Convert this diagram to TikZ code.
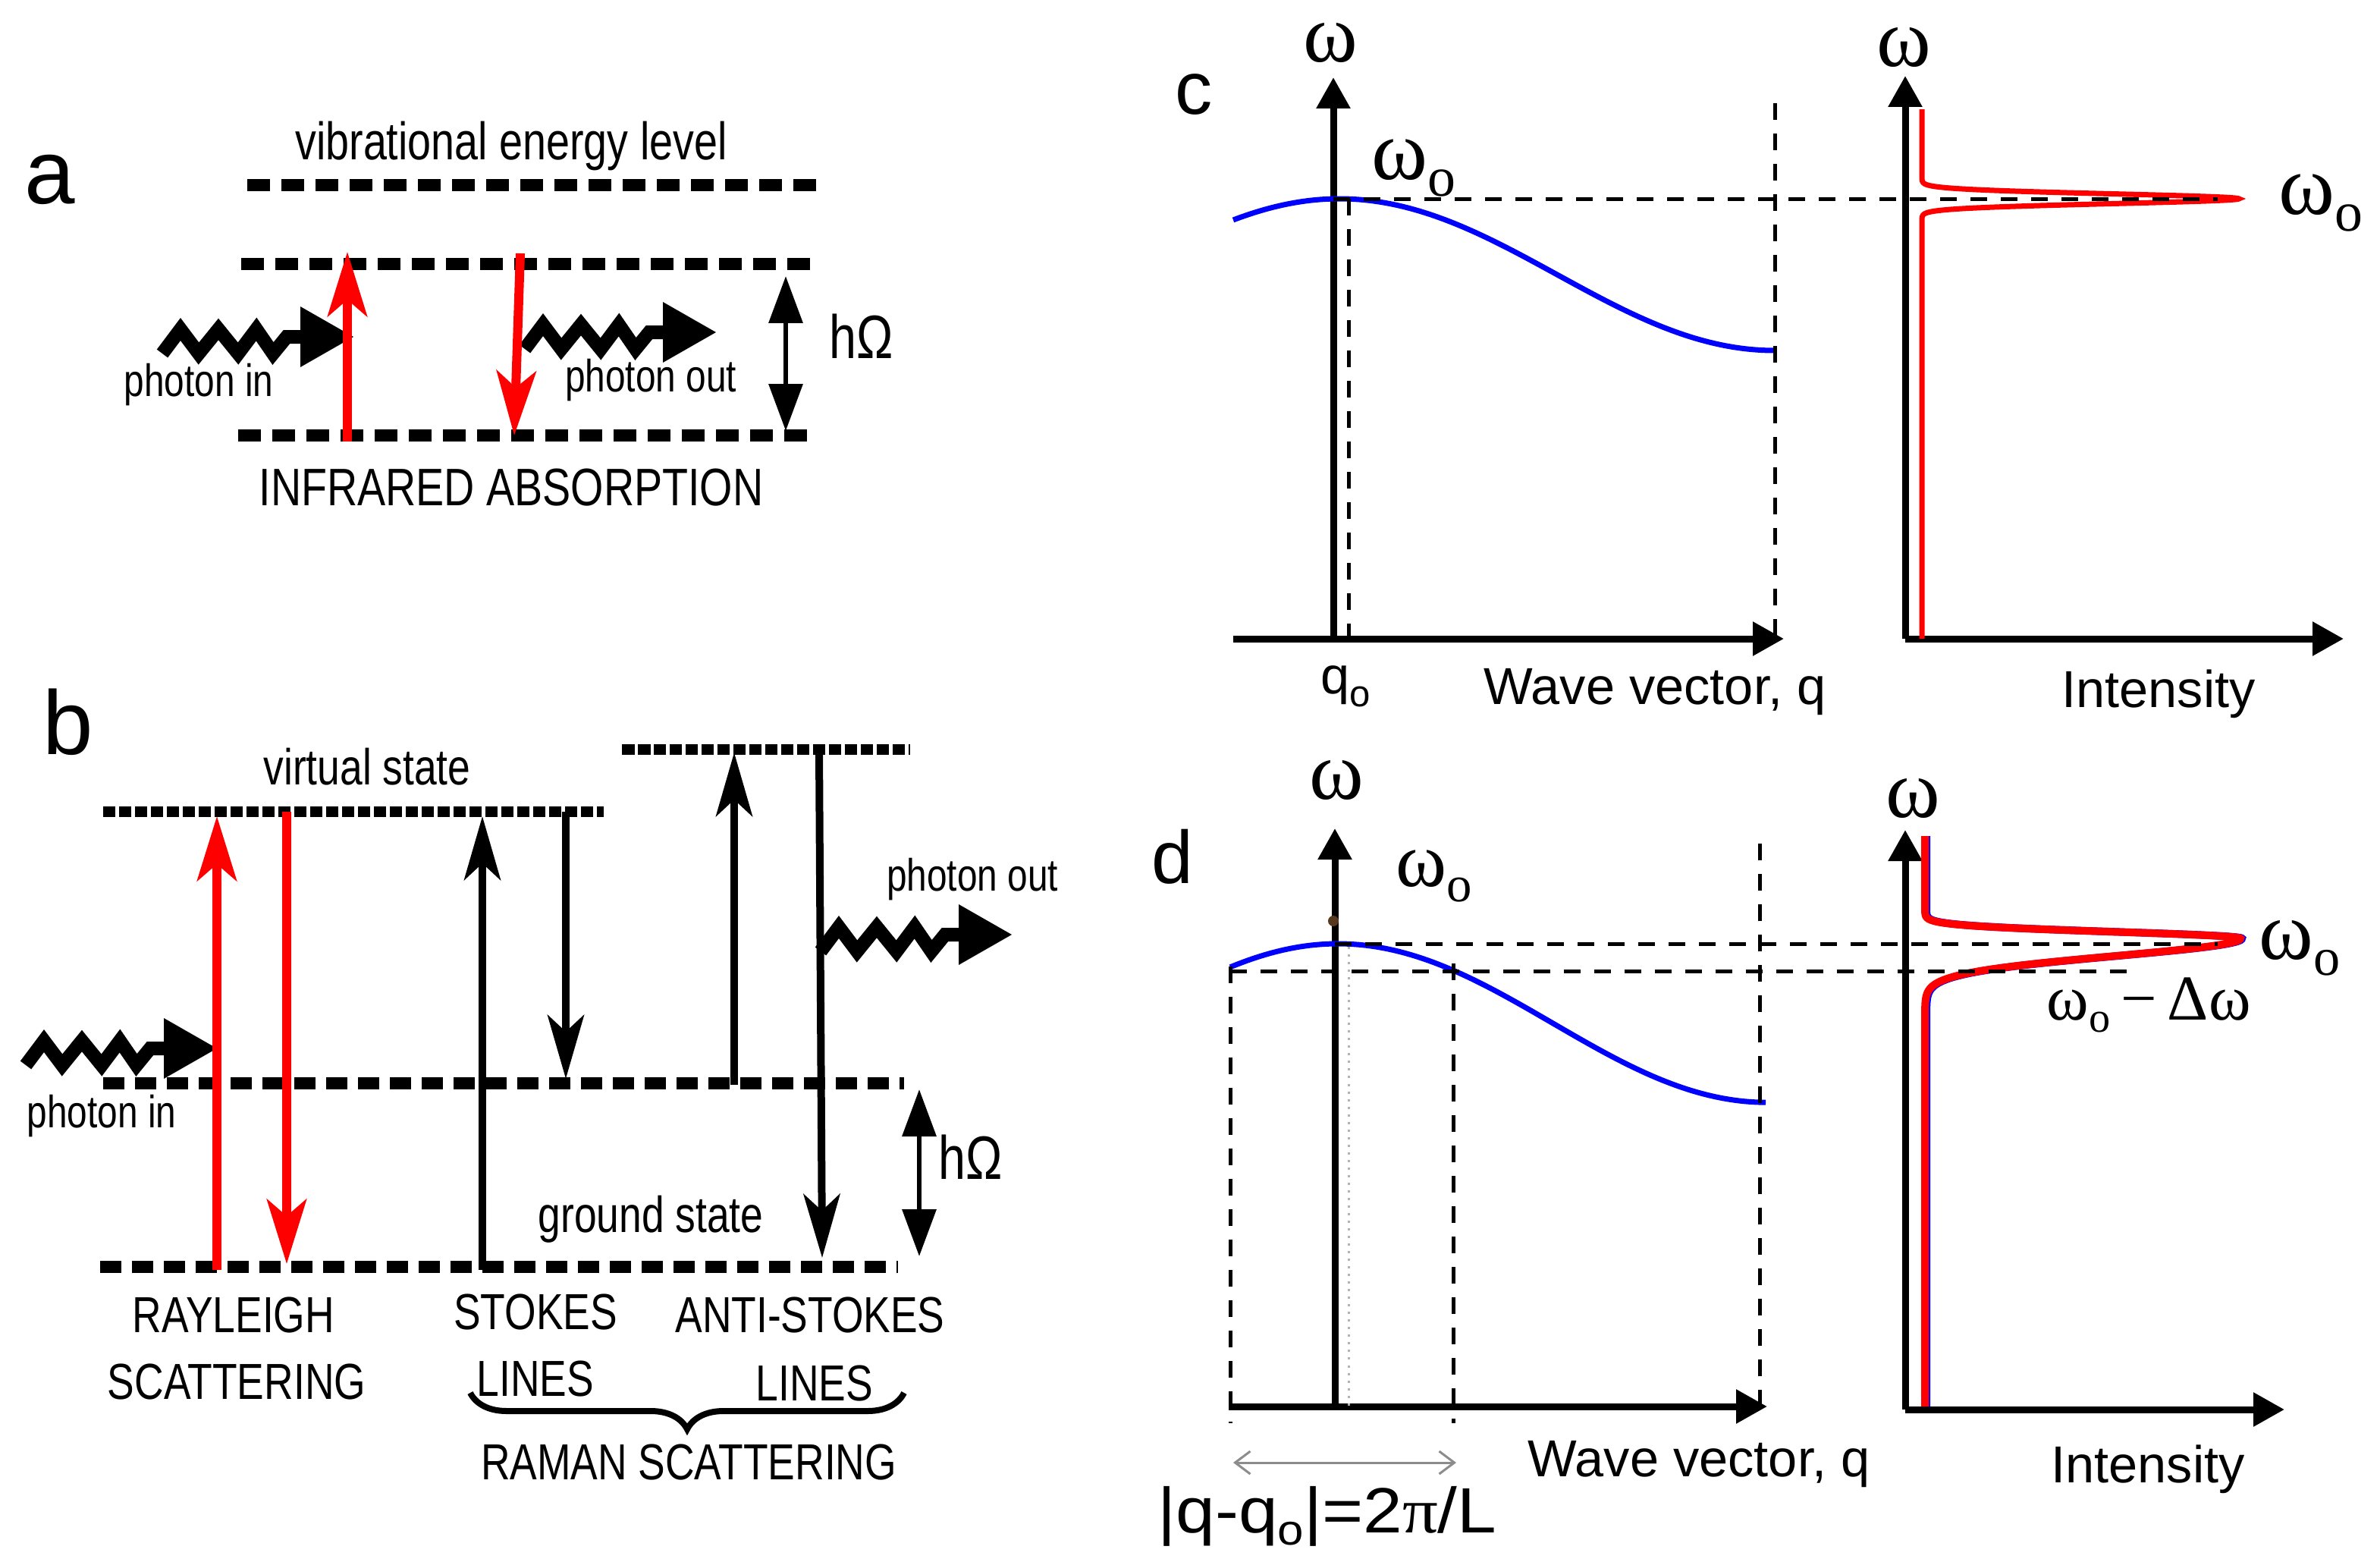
\documentclass[tikz,border=0pt]{standalone}
\usepackage{fontspec}
\setmainfont{Liberation Sans}
\newfontfamily\narrowfont[FakeStretch=0.8]{Liberation Sans}
\newfontfamily\greekfont{Liberation Serif}
\usetikzlibrary{arrows.meta,decorations.pathreplacing}
\newcommand{\omo}[1][21]{ω\raisebox{-0.2em}{\fontsize{#1}{#1}\selectfont o}}

\tikzset{
  level/.style={line width=0.16cm, dash pattern=on 0.3cm off 0.15cm},
  virtual/.style={line width=0.14cm, dash pattern=on 0.165cm off 0.045cm},
  redarrow/.style={red, line width=0.12cm, -{Stealth[length=0.85cm,width=0.52cm,inset=0.22cm]}},
  blackarrow/.style={line width=0.1cm, -{Stealth[length=0.84cm,width=0.48cm,inset=0.22cm]}},
  quantum/.style={line width=0.065cm, {Triangle[length=0.62cm,width=0.44cm]}-{Triangle[length=0.62cm,width=0.44cm]}},
  axis/.style={line width=0.09cm, -{Triangle[length=0.41cm,width=0.43cm]}},
  guide/.style={line width=0.05cm, dash pattern=on 0.22cm off 0.18cm},
  dispersion/.style={blue, line width=0.07cm},
  peak/.style={red, line width=0.07cm},
  narrow/.style={font=\narrowfont\fontsize{19}{19}\selectfont, inner sep=0pt, anchor=base},
  photonlbl/.style={font=\narrowfont\fontsize{17}{17}\selectfont, inner sep=0pt, anchor=base},
  plain/.style={font=\fontsize{19.5}{19.5}\selectfont, inner sep=0pt, anchor=base},
  greek/.style={font=\greekfont\fontsize{31}{31}\selectfont, inner sep=0pt},
  panel/.style={font=\fontsize{34}{34}\selectfont, inner sep=0pt, anchor=base},
  photon/.pic={
    \draw[line width=0.18cm] (0,8) -- (12,-8) -- (24,8) -- (37,-8) -- (50,8) -- (62,-8) -- (73,8) -- (82,-3) -- (92,-3);
    \fill (91,-23) -- (126,-3) -- (91,17) -- cycle;
  },
}

\begin{document}
\begin{tikzpicture}[x=0.02cm, y=-0.02cm]
  \fill[white] (0,0) rectangle (1569,1029.5);
  \useasboundingbox (0,0) rectangle (1569,1029.5);

  % pannello a: assorbimento infrarosso
  \node[panel] (lab-a) at (33,134) {a};
  \node[narrow, font=\narrowfont\fontsize{19.8}{19.8}\selectfont] (vib) at (337,105) {vibrational energy level};
  \draw[level] (163,122) -- (540,122);
  \draw[level] (159,174) -- (535,174);
  \draw[level] (157,287) -- (532,287);
  \pic at (107,225) {photon};
  \pic at (346,222) {photon};
  \draw[redarrow] (229,291) -- (229,166);
  \draw[redarrow] (343,167) -- (339,287);
  \draw[quantum] (518,182) -- (518,284);
  \node[photonlbl] (in-a) at (131,261) {photon in};
  \node[photonlbl] (out-a) at (429,258) {photon out};
  \node[narrow, font=\narrowfont\fontsize{23}{23}\selectfont] (hw-a) at (568,236) {hΩ};
  \node[narrow, font=\narrowfont\fontsize{19.8}{19.8}\selectfont] (ir) at (337,333) {INFRARED ABSORPTION};

  % pannello b: Rayleigh e Raman
  \node[panel] (lab-b) at (45,497) {b};
  \node[narrow] (virt) at (242,517) {virtual state};
  \draw[virtual] (68,535) -- (398,535);
  \draw[virtual] (410,494) -- (600,494);
  \draw[level, dash pattern=on 0.28cm off 0.14cm] (68,714) -- (596,714);
  \draw[level, dash pattern=on 0.28cm off 0.14cm] (66,835) -- (592,835);
  \pic at (17,694) {photon};
  \pic at (541,619) {photon};
  \draw[redarrow] (143,837) -- (143,538);
  \draw[redarrow] (189,535) -- (189,833);
  \draw[blackarrow] (318,837) -- (318,538);
  \draw[blackarrow] (373,535) -- (373,711);
  \draw[blackarrow] (484,715) -- (484,496);
  \draw[blackarrow] (540,494) -- (542,829);
  \draw[quantum] (606,718) -- (606,828);
  \node[photonlbl] (in-b) at (67,743) {photon in};
  \node[photonlbl] (out-b) at (641,587) {photon out};
  \node[narrow, font=\narrowfont\fontsize{23}{23}\selectfont] (hw-b) at (640,777) {hΩ};
  \node[narrow] (ground) at (429,812) {ground state};
  \node[narrow] (ray1) at (154,878) {RAYLEIGH};
  \node[narrow] (ray2) at (156,922) {SCATTERING};
  \node[narrow] (st1) at (353,876) {STOKES};
  \node[narrow] (st2) at (353,920) {LINES};
  \node[narrow] (as1) at (534,878) {ANTI-STOKES};
  \node[narrow] (as2) at (537,923) {LINES};
  \draw[decorate, decoration={brace, amplitude=0.48cm, mirror}, line width=0.08cm] (310,918) -- (596,918);
  \node[narrow] (raman) at (454,975) {RAMAN SCATTERING};

  % pannello c: dispersione e picco stretto
  \node[panel, font=\fontsize{28}{28}\selectfont] (lab-c) at (787,75) {c};
  \draw[axis] (879,421) -- (879,51);
  \draw[axis] (813,421) -- (1176,421);
  \draw[axis] (1256,421) -- (1256,50);
  \draw[axis] (1256,421) -- (1545,421);
  \draw[dispersion] plot[domain=813:1170, samples=80, smooth] (\x, {131+50*(1-cos((\x-883)/287*180))});
  \draw[peak] (1267,72) -- plot[variable=\t, domain=101:161, samples=241] ({1267+209*exp(-(\t-131)*(\t-131)/20.48)}, \t) -- (1267,421);
  \draw[guide] (879,131) -- (1462,131);
  \draw[guide] (889,131) -- (889,421);
  \draw[guide] (1170,68) -- (1170,421);
  \node[greek] (w-c1) at (877,28) {ω};
  \node[greek] (w-c2) at (1255,31) {ω};
  \node[greek, font=\greekfont\fontsize{32}{32}\selectfont, anchor=base west] (wo-c1) at (904,118) {\omo};
  \node[greek, font=\greekfont\fontsize{32}{32}\selectfont, anchor=base west] (wo-c2) at (1502,141) {\omo};
  \node[plain] (q-c) at (887,457) {q\raisebox{-0.25em}{\fontsize{14}{14}\selectfont o}};
  \node[plain] (wave-c) at (1091,464) {Wave vector, q};
  \node[plain] (int-c) at (1423,466) {Intensity};

  % pannello d: picco allargato
  \node[panel, font=\fontsize{28}{28}\selectfont] (lab-d) at (773,582) {d};
  \draw[axis] (880,927) -- (880,546);
  \draw[axis] (810,927) -- (1165,927);
  \draw[axis] (1256,929) -- (1256,547);
  \draw[axis] (1256,929) -- (1506,929);
  \draw[dispersion] plot[domain=811:1164, samples=80, smooth] (\x, {622+52.3*(1-cos((\x-882)/283*180))});
  \draw[blue, line width=0.1cm, xshift=0.02cm] (1269,551) -- plot[variable=\t, domain=585:618.5, samples=135] ({1269+208*exp(-(\t-618.5)*(\t-618.5)/36.98)}, \t) -- plot[variable=\t, domain=618.5:680, samples=124] ({1269+208*exp(-(\t-618.5)*(\t-618.5)/264.5)}, \t) -- (1269,927);
  \draw[peak, line width=0.1cm] (1269,551) -- plot[variable=\t, domain=585:618.5, samples=135] ({1269+208*exp(-(\t-618.5)*(\t-618.5)/36.98)}, \t) -- plot[variable=\t, domain=618.5:680, samples=124] ({1269+208*exp(-(\t-618.5)*(\t-618.5)/264.5)}, \t) -- (1269,927);
  \draw[guide] (880,622) -- (1462,622);
  \draw[guide] (811,640) -- (1404,640);
  \draw[guide] (811,637) -- (811,938);
  \draw[guide] (958,635) -- (958,938);
  \draw[guide] (1160,556) -- (1160,927);
  \draw[black!30, line width=0.03cm, dotted] (889,624) -- (889,927);
  \fill[black!55!brown] (879,607) circle[radius=3.5];
  \draw[black!45, line width=0.03cm, {Straight Barb[length=0.2cm,width=0.3cm]}-{Straight Barb[length=0.2cm,width=0.3cm]}] (813,964) -- (960,964);
  \node[greek] (w-d1) at (881,514) {ω};
  \node[greek] (w-d2) at (1261,526) {ω};
  \node[greek, font=\greekfont\fontsize{29}{29}\selectfont, anchor=base west] (wo-d1) at (920,584) {\omo[19]};
  \node[greek, font=\greekfont\fontsize{31}{31}\selectfont, anchor=base west] (wo-d2) at (1489,632) {\omo[20]};
  \node[greek, font=\greekfont\fontsize{24}{24}\selectfont, anchor=base west] (wd-d) at (1349,672) {\omo[16]\,−\,Δω};
  \node[plain] (wave-d) at (1120,973) {Wave vector, q};
  \node[plain] (int-d) at (1416,977) {Intensity};
  \node[plain, font=\fontsize{24}{24}\selectfont] (len-d) at (875,1010) {\scalebox{1.1}[1]{|q-q\raisebox{-0.2em}{\fontsize{16}{16}\selectfont o}|=2{\greekfont π}/L}};
\end{tikzpicture}
\end{document}
